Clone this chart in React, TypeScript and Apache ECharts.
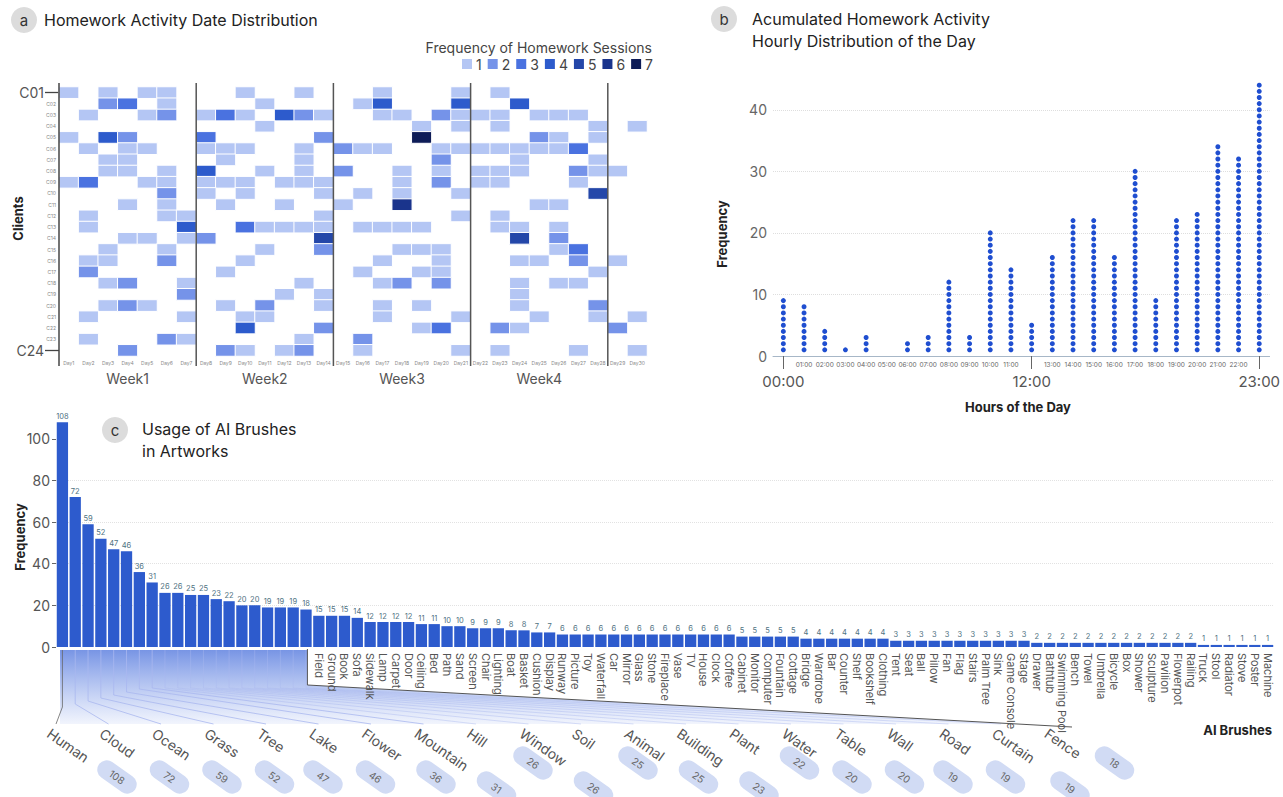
import React, { useEffect, useRef } from "react";
import * as echarts from "echarts";

// ---------------- DATA ----------------
const DAYS = [
  "Day1", "Day2", "Day3", "Day4", "Day5", "Day6", "Day7", "Day8", "Day9", "Day10",
  "Day11", "Day12", "Day13", "Day14", "Day15", "Day16", "Day17", "Day18", "Day19", "Day20",
  "Day21", "Day22", "Day23", "Day24", "Day25", "Day26", "Day27", "Day28", "Day29", "Day30",
];
const WEEKS = ["Week1", "Week2", "Week3", "Week4"];
const CLIENTS = [
  "C01", "C02", "C03", "C04", "C05", "C06", "C07", "C08", "C09", "C10", "C11", "C12",
  "C13", "C14", "C15", "C16", "C17", "C18", "C19", "C20", "C21", "C22", "C23", "C24",
];
const SESSION_LEVELS = [1, 2, 3, 4, 5, 6, 7];
const SESSION_COLORS = ["#b4c6f4", "#7593e9", "#4a72e0", "#2d5bcc", "#2447a9", "#1a348c", "#0e1c57"];
// one string per client, days grouped by week ('.' = no session)
const SESSIONS = [
  "1.1.11. ..1..1. ..1...1 .1..... ..",
  "..23.1. ...1... .14...4 ..4.... ..",
  ".1..12. 131.421 ..11.21 11.111. ..",
  "....... ...1... ....1.1 .1....1 .1",
  "1.42... 3.....2 ....7.. ...21.1 ..",
  ".1.11.. 111..1. 211..11 111113. ..",
  "..11... .1...1. .....2. ..1...1 ..",
  "..11.1. 4..1.1. 2..1.1. 111..21 1.",
  "13..11. 111.111 ...1.2. 11...1. ..",
  ".....2. 1.1...1 .1.1..1 ......5 ..",
  "...1.1. .1..1.. 1..6... ...11.. ..",
  ".1...11 ......1 ......1 .1..... ..",
  ".1....4 ..31111 .1111.. .11.1.. ..",
  "...11.1 2.....5 ....... ..5.2.. ..",
  "..1..1. ...1..2 ...111. ....13. ..",
  ".11..2. ..1.... ..1..1. ..11.2. 1.",
  ".2..... .1..... .1..11. ......1 ..",
  "..12..1 .....1. ..12.2. ..1.11. ..",
  "......2 ....1.1 ....... ..1.... ..",
  "..121.. .1.2..1 ..1.1.. ..1...2 ..",
  ".1....1 ..11... ..1...1 ...1..1 .1",
  "....... ..4...2 ....13. .21.... 2.",
  ".1...21 .....1. .2..... ....... ..",
  "...2... .21.12. .1....1 .1...1. .1",
];

const HOURS = [
  "00:00", "01:00", "02:00", "03:00", "04:00", "05:00", "06:00", "07:00", "08:00", "09:00",
  "10:00", "11:00", "12:00", "13:00", "14:00", "15:00", "16:00", "17:00", "18:00", "19:00",
  "20:00", "21:00", "22:00", "23:00",
];
const HOURLY = [9, 8, 4, 1, 3, 0, 2, 3, 12, 3, 20, 14, 5, 16, 22, 22, 16, 30, 9, 22, 23, 34, 32, 44];
const MAJOR_HOURS = ["00:00", "12:00", "23:00"];
const HOURLY_TICKS = [0, 10, 20, 30, 40];

const BRUSHES = [
  "Human", "Cloud", "Ocean", "Grass", "Tree", "Lake", "Flower", "Mountain", "Hill", "Window",
  "Soil", "Animal", "Building", "Plant", "Water", "Table", "Wall", "Road", "Curtain", "Fence",
  "Field", "Ground", "Book", "Sofa", "Sidewalk", "Lamp", "Carpet", "Door", "Ceiling", "Bed",
  "Path", "Sand", "Screen", "Chair", "Lighting", "Boat", "Basket", "Cushion", "Display", "Runway",
  "Picture", "Toy", "Waterfall", "Car", "Mirror", "Glass", "Stone", "Fireplace", "Vase", "TV",
  "House", "Clock", "Coffee", "Cabinet", "Monitor", "Computer", "Fountain", "Cottage", "Bridge", "Wardrobe",
  "Bar", "Counter", "Shelf", "Bookshelf", "Clothing", "Tent", "Seat", "Ball", "Pillow", "Fan",
  "Flag", "Stairs", "Palm Tree", "Sink", "Game Console", "Stage", "Drawer", "Bathtub", "Swimming Pool", "Bench",
  "Towel", "Umbrella", "Bicycle", "Box", "Shower", "Sculpture", "Pavilion", "Flowerpot", "Railing", "Truck",
  "Stool", "Radiator", "Stove", "Poster", "Machine",
];
const USAGE = [
  108, 72, 59, 52, 47, 46, 36, 31, 26, 26,
  25, 25, 23, 22, 20, 20, 19, 19, 19, 18,
  15, 15, 15, 14, 12, 12, 12, 12, 11, 11,
  10, 10, 9, 9, 9, 8, 8, 7, 7, 6,
  6, 6, 6, 6, 6, 6, 6, 6, 6, 6,
  6, 6, 6, 5, 5, 5, 5, 5, 4, 4,
  4, 4, 4, 4, 4, 3, 3, 3, 3, 3,
  3, 3, 3, 3, 3, 3, 2, 2, 2, 2,
  2, 2, 2, 2, 2, 2, 2, 2, 2, 1,
  1, 1, 1, 1, 1,
];
const USAGE_TICKS = [0, 20, 40, 60, 80, 100];
const TOP_N = 20;

// ---------------- LAYOUT ----------------
const W = 1283;
const H = 797;
const FONT = "Inter, 'Noto Sans', 'DejaVu Sans', sans-serif";
const GA = { left: 59, top: 87, width: 588, height: 269 };
const GB = { left: 773, top: 79, width: 500, height: 277 };
const GC = { left: 56, top: 418, width: 1218, height: 229 };

function buildHeat() {
  const out: number[][] = [];
  SESSIONS.forEach((row, ci) => {
    row.replace(/\s/g, "").split("").forEach((ch, di) => {
      if (ch !== ".") out.push([di, ci, Number(ch)]);
    });
  });
  return out;
}

function buildDots() {
  const out: number[][] = [];
  HOURLY.forEach((n, h) => {
    for (let k = 1; k <= n; k++) out.push([h, k]);
  });
  return out;
}

function text(x: number, y: number, t: string, style: any = {}, extra: any = {}) {
  return {
    type: "text",
    x,
    y,
    z: 10,
    ...extra,
    style: {
      text: t,
      fontFamily: FONT,
      fontSize: 14,
      fill: "#333",
      align: "left",
      verticalAlign: "middle",
      ...style,
    },
  };
}

function badge(cx: number, cy: number, letter: string) {
  return [
    { type: "circle", z: 10, shape: { cx, cy, r: 13 }, style: { fill: "#dcdcdc" } },
    text(cx, cy, letter, { align: "center", fontSize: 15, fill: "#333" }, { z: 11 }),
  ];
}

function buildGraphics() {
  const g: any[] = [];
  // ---------- panel a ----------
  g.push(...badge(24, 20, "a"));
  g.push(text(44, 20, "Homework Activity Date Distribution", { fontSize: 16, fill: "#222" }));
  g.push(text(652, 47, "Frequency of Homework Sessions", { align: "right", fontSize: 14, fill: "#444" }));
  const dayW = GA.width / DAYS.length;
  const lineTop = GA.top - 4;
  const lineBot = GA.top + GA.height + 10;
  g.push({
    type: "line",
    z: 5,
    shape: { x1: GA.left, y1: lineTop, x2: GA.left, y2: lineBot },
    style: { stroke: "#444", lineWidth: 1.5 },
  });
  WEEKS.forEach((w, k) => {
    const xs = GA.left + (k + 1) * 7 * dayW;
    g.push({
      type: "line",
      z: 5,
      shape: { x1: xs, y1: lineTop, x2: xs, y2: lineBot },
      style: { stroke: "#555", lineWidth: 1.5 },
    });
    g.push(text(GA.left + (k * 7 + 3.5) * dayW, 378, w, { align: "center", fontSize: 14, fill: "#555" }));
  });
  g.push(text(18, GA.top + GA.height / 2 - 3, "Clients", { align: "center", fontSize: 13, fontWeight: "bold", fill: "#222" }, { rotation: Math.PI / 2 }));

  // ---------- panel b ----------
  g.push(...badge(724, 19, "b"));
  g.push(text(752, 19, "Acumulated Homework Activity", { fontSize: 16, fill: "#222" }));
  g.push(text(752, 41, "Hourly Distribution of the Day", { fontSize: 16, fill: "#222" }));
  g.push(text(722, 234, "Frequency", { align: "center", fontSize: 13, fontWeight: "bold", fill: "#222" }, { rotation: Math.PI / 2 }));
  g.push(text(1018, 407, "Hours of the Day", { align: "center", fontSize: 13, fontWeight: "bold", fill: "#222" }));

  // ---------- panel c ----------
  g.push(...badge(115, 430, "c"));
  g.push(text(142, 429, "Usage of AI Brushes", { fontSize: 16, fill: "#222" }));
  g.push(text(142, 451, "in Artworks", { fontSize: 16, fill: "#222" }));
  g.push(text(20, 537, "Frequency", { align: "center", fontSize: 13, fontWeight: "bold", fill: "#222" }, { rotation: Math.PI / 2 }));
  g.push(text(1272, 730, "AI Brushes", { align: "right", fontSize: 13, fontWeight: "bold", fill: "#222" }));

  const band = GC.width / BRUSHES.length;
  const axisY = GC.top + GC.height + 3;
  const fanBot = 724;
  const panelX = GC.left + TOP_N * band - 5;
  const slantEnd = [1072, 727];
  const lblX0 = 53;
  const lblDX = 52.5;
  const lblY = 726;
  const ang = (35 * Math.PI) / 180;

  // gradient band
  g.push({
    type: "polygon",
    z: -3,
    shape: { points: [[GC.left + 4, axisY], [slantEnd[0], axisY], [slantEnd[0], fanBot], [GC.left + 4, fanBot]] },
    style: {
      fill: new echarts.graphic.LinearGradient(0, 0, 0, 1, [
        { offset: 0, color: "rgba(96,130,224,0.85)" },
        { offset: 1, color: "rgba(120,150,232,0.10)" },
      ]),
    },
  });
  // fan lines
  for (let i = 0; i < TOP_N; i++) {
    const bx = GC.left + (i + 0.5) * band;
    const ax = lblX0 + i * lblDX + 3;
    const mid = Math.max(688, 707 - 3 * i);
    g.push({
      type: "polyline",
      z: -2,
      shape: { points: [[bx, axisY], [bx, mid], [ax, fanBot]] },
      style: { stroke: i === 0 ? "#666" : "#a9b8ef", lineWidth: 0.8, fill: null, opacity: i < 8 ? 1 : 0.55 },
    });
  }
  // white label panel
  g.push({
    type: "polygon",
    z: -1,
    shape: { points: [[panelX, axisY - 1], [W, axisY - 1], [W, slantEnd[1] + 4], [slantEnd[0], slantEnd[1]], [panelX, 685]] },
    style: { fill: "#ffffff" },
  });
  g.push({
    type: "polyline",
    z: -0.5,
    shape: { points: [[panelX, axisY - 1], [panelX, 685], [slantEnd[0], slantEnd[1]]] },
    style: { stroke: "#555", lineWidth: 1, fill: null },
  });

  // labels and value pills for the top brushes
  const pills: { x: number; y: number; v: number }[] = [];
  for (let i = 0; i < TOP_N; i++) {
    const name = BRUSHES[i];
    const ax = lblX0 + i * lblDX;
    g.push(text(ax, lblY, name, { align: "left", verticalAlign: "top", fontSize: 14, fill: "#555" }, { rotation: -ang }));
    pills.push({ x: ax + 44 + 4 * name.length, y: 777, v: USAGE[i] });
  }
  for (let i = 1; i < pills.length; i++) {
    if (pills[i].x - pills[i - 1].x < 45 && pills[i - 1].y === 777) {
      pills[i - 1].y = 788;
      pills[i].y = 763;
    }
  }
  pills.forEach((p) => {
    g.push({
      type: "group",
      x: p.x,
      y: p.y,
      rotation: -ang,
      z: 10,
      children: [
        { type: "rect", z: 10, shape: { x: -22, y: -9.5, width: 44, height: 19, r: 9.5 }, style: { fill: "#d1dbf4" } },
        {
          type: "text",
          z: 11,
          x: 0,
          y: 0,
          style: { text: String(p.v), fontFamily: FONT, fontSize: 10, fill: "#666", align: "center", verticalAlign: "middle" },
        },
      ],
    });
  });
  return g;
}

function buildOption() {
  const heat = buildHeat();
  const dots = buildDots();
  const lastClient = CLIENTS.length - 1;
  return {
    animation: false,
    backgroundColor: "#ffffff",
    textStyle: { fontFamily: FONT },
    grid: [
      { ...GA, containLabel: false },
      { ...GB, containLabel: false },
      { ...GC, containLabel: false },
    ],
    visualMap: {
      type: "piecewise",
      seriesIndex: 0,
      dimension: 2,
      orient: "horizontal",
      left: 447,
      top: 42,
      itemWidth: 10,
      itemHeight: 10,
      itemGap: 6,
      textGap: 4,
      itemSymbol: "rect",
      hoverLink: false,
      selectedMode: false,
      textStyle: { fontSize: 14, color: "#444", fontFamily: FONT },
      pieces: SESSION_LEVELS.map((l, i) => ({ value: l, label: String(l), color: SESSION_COLORS[i] })),
    },
    xAxis: [
      {
        gridIndex: 0,
        type: "category",
        data: DAYS,
        axisLine: { show: false },
        axisTick: { show: false },
        splitLine: { show: false },
        axisLabel: { interval: 0, fontSize: 5, color: "#888", margin: 4 },
      },
      {
        gridIndex: 1,
        type: "category",
        data: HOURS,
        boundaryGap: true,
        axisLine: { show: true, lineStyle: { color: "#a7b7c7", width: 1 } },
        axisTick: {
          show: true,
          alignWithLabel: true,
          length: 13,
          interval: (i: number, v: string) => MAJOR_HOURS.includes(v),
          lineStyle: { color: "#666", width: 1 },
        },
        splitLine: { show: false },
        axisLabel: {
          interval: 0,
          margin: 5,
          formatter: (v: string) => (MAJOR_HOURS.includes(v) ? `{big|${v}}` : `{small|${v}}`),
          rich: {
            big: { fontSize: 15, color: "#555", padding: [13, 0, 0, 0], fontFamily: FONT },
            small: { fontSize: 6.5, color: "#666", fontFamily: FONT },
          },
        },
      },
      {
        gridIndex: 2,
        type: "category",
        data: BRUSHES,
        axisLine: { show: false },
        axisTick: { show: false },
        splitLine: { show: false },
        axisLabel: {
          interval: 0,
          rotate: -90,
          fontSize: 11,
          color: "#555",
          margin: 6,
          formatter: (v: string, i: number) => (i < TOP_N ? "" : v),
        },
      },
    ],
    yAxis: [
      {
        gridIndex: 0,
        type: "category",
        data: CLIENTS,
        inverse: true,
        axisLine: { show: false },
        axisTick: {
          show: true,
          alignWithLabel: true,
          length: 14,
          interval: (i: number) => i === 0 || i === lastClient,
          lineStyle: { color: "#444", width: 1.3 },
        },
        splitLine: { show: false },
        axisLabel: {
          interval: 0,
          margin: 3,
          formatter: (v: string, i: number) => (i === 0 || i === lastClient ? `{big|${v}}` : `{small|${v}}`),
          rich: {
            big: { fontSize: 14, color: "#555", padding: [0, 12, 0, 0], fontFamily: FONT },
            small: { fontSize: 5, color: "#888", fontFamily: FONT },
          },
        },
      },
      {
        gridIndex: 1,
        type: "value",
        min: 0,
        max: 45,
        interval: 10,
        axisLine: { show: false },
        axisTick: { show: false },
        axisLabel: { fontSize: 14, color: "#666", margin: 6, customValues: HOURLY_TICKS },
        splitLine: { show: true, showMaxLine: false, showMinLine: false, lineStyle: { type: "dotted", color: "#dedede" } },
      },
      {
        gridIndex: 2,
        type: "value",
        min: 0,
        max: 110,
        interval: 20,
        axisLine: { show: false },
        axisTick: { show: true, length: 4, lineStyle: { color: "#666" }, customValues: USAGE_TICKS },
        axisLabel: { fontSize: 14, color: "#555", margin: 6, customValues: USAGE_TICKS },
        splitLine: { show: true, showMaxLine: false, showMinLine: false, lineStyle: { type: "dotted", color: "#e2e2e2" } },
      },
    ],
    series: [
      {
        type: "heatmap",
        xAxisIndex: 0,
        yAxisIndex: 0,
        data: heat,
        itemStyle: { borderColor: "#ffffff", borderWidth: 1 },
        emphasis: { disabled: true },
      },
      {
        type: "scatter",
        xAxisIndex: 1,
        yAxisIndex: 1,
        data: dots,
        symbol: "circle",
        symbolSize: 5,
        itemStyle: { color: "#1f4ed0", opacity: 1 },
        emphasis: { disabled: true },
      },
      {
        type: "bar",
        xAxisIndex: 2,
        yAxisIndex: 2,
        data: USAGE,
        barCategoryGap: "12%",
        itemStyle: { color: "#2d5bcd" },
        label: { show: true, position: "top", distance: 2, fontSize: 7.5, color: "#4f7282", fontFamily: FONT },
        emphasis: { disabled: true },
      },
    ],
    graphic: { elements: buildGraphics() },
  };
}

export default function App() {
  const ref = useRef<HTMLDivElement>(null);
  useEffect(() => {
    if (!ref.current) return;
    const chart = echarts.init(ref.current, undefined, { renderer: "svg", width: W, height: H });
    chart.setOption(buildOption() as any);
    return () => chart.dispose();
  }, []);
  return (
    <div
      ref={ref}
      style={{ position: "absolute", left: 0, top: 0, width: W, height: H, background: "#fff" }}
    />
  );
}
